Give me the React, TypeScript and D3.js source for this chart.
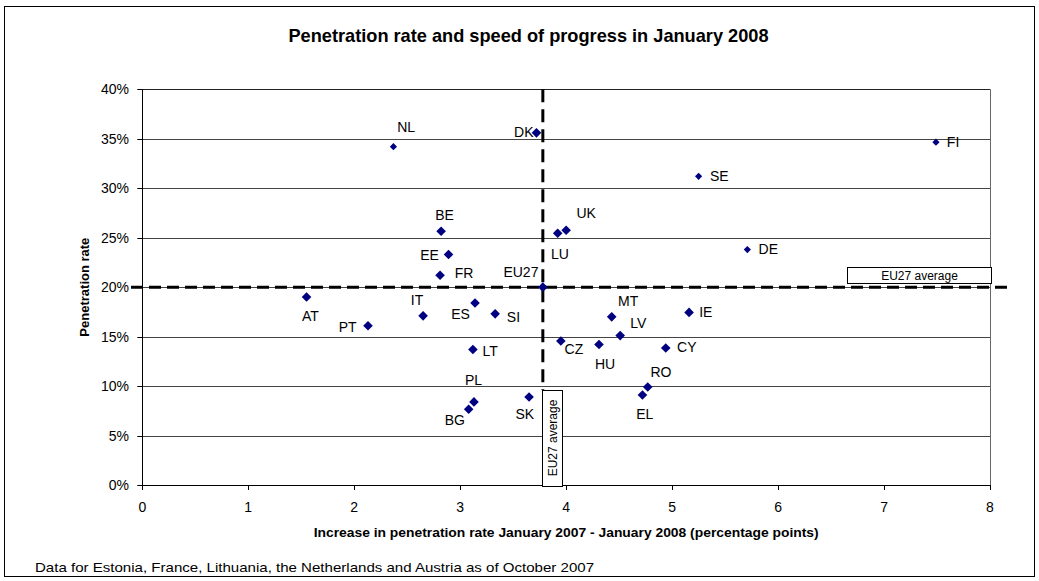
import React from "react";
import * as d3 from "d3";

// ---- Data ----
const countries = ["NL","DK","BE","EE","FR","AT","PT","IT","ES","SI","LT","PL","BG","SK","FI","SE","UK","LU","DE","MT","IE","LV","CZ","HU","CY","RO","EL","EU27"];
const increase = [2.37,3.72,2.82,2.89,2.81,1.55,2.13,2.65,3.14,3.33,3.12,3.13,3.08,3.65,7.49,5.25,4.0,3.92,5.71,4.43,5.16,4.51,3.95,4.31,4.94,4.77,4.72,3.78];
const penetration = [0.342,0.356,0.2565,0.233,0.212,0.19,0.161,0.171,0.184,0.173,0.137,0.084,0.0765,0.089,0.3465,0.312,0.2575,0.2545,0.238,0.17,0.1745,0.151,0.1455,0.142,0.1385,0.099,0.091,0.20];
const avgIncrease = 3.78;
const avgPenetration = 0.20;
const xTicks = [0,1,2,3,4,5,6,7,8];
const yTicks = [0,0.05,0.1,0.15,0.2,0.25,0.3,0.35,0.4];

const title = "Penetration rate and speed of progress in January 2008";
const xTitle = "Increase in penetration rate January 2007 - January 2008 (percentage points)";
const yTitle = "Penetration rate";
const footnote = "Data for Estonia, France, Lithuania, the Netherlands and Austria as of October 2007";
const avgLabel = "EU27 average";

// ---- Styling / layout (not data) ----
const smallMarkers = new Set(["NL","FI","SE","DE"]);
const labelOffset: Record<string,[number,number]> = {
  NL:[12.7,-19.2], DK:[-12.7,-0.7], BE:[3.5,-16.3], EE:[-19,0.7], FR:[24,-2], EU27:[-21.9,-14.7],
  AT:[3.8,18.9], PT:[-20.3,1.2], IT:[-6.1,-16.2], ES:[-14.5,10.8], SI:[18.3,3.3], LT:[17.3,1.2],
  PL:[-0.5,-22.3], BG:[-13.8,10.7], SK:[-4.3,17.1], FI:[17.1,0], SE:[20.7,-0.3], UK:[20,-17.3],
  LU:[2.2,20.5], DE:[21,-0.2], MT:[16.5,-16.2], IE:[16.8,-0.1], LV:[18.1,-12.5], CZ:[13,7.7],
  HU:[6,19.8], CY:[21,-0.8], RO:[13.2,-15.1], EL:[2.3,19.1],
};

const W = 1039, H = 581;
const FONT = "'Liberation Sans', Arial, sans-serif";

export default function App() {
  const x = d3.scaleLinear().domain([0, 8]).range([142.3, 990]);
  const y = d3.scaleLinear().domain([0, 0.4]).range([485, 89.3]);
  const fmtPct = d3.format(".0%");
  const diamond = (s: number) => `M0,${-s} L${s},0 L0,${s} L${-s},0 Z`;

  const x0 = x(0), x1 = x(8), y0 = y(0), y1 = y(0.4);
  const ax = x(avgIncrease), ay = y(avgPenetration);

  return (
    <svg width={W} height={H} style={{ position: "absolute", left: 0, top: 0, background: "#fff" }} fontFamily={FONT}>
      <rect x={0} y={0} width={W} height={H} fill="#fff" />
      <rect x={4.5} y={6.5} width={1030} height={570} fill="none" stroke="#000" strokeWidth={1} />

      <text x={528.5} y={41.5} textAnchor="middle" fontWeight="bold" fontSize={18.2}>{title}</text>

      {/* gridlines */}
      {yTicks.filter(t => t > 0 && t < 0.4).map(t => (
        <line key={"g" + t} x1={x0} x2={x1} y1={Math.round(y(t)) + 0.5} y2={Math.round(y(t)) + 0.5} stroke="#444" strokeWidth={1} />
      ))}
      {/* plot border top/right */}
      <line x1={x0} x2={x1} y1={Math.round(y1) + 0.5} y2={Math.round(y1) + 0.5} stroke="#222" />
      <line x1={Math.round(x1) + 0.5} x2={Math.round(x1) + 0.5} y1={y1} y2={y0} stroke="#666" />

      {/* axes */}
      <line x1={Math.round(x0) + 0.5} x2={Math.round(x0) + 0.5} y1={y1} y2={y0} stroke="#000" />
      <line x1={x0} x2={x1} y1={Math.round(y0) + 0.5} y2={Math.round(y0) + 0.5} stroke="#000" />
      {yTicks.map(t => (
        <g key={"yt" + t}>
          <line x1={x0 - 5} x2={x0} y1={Math.round(y(t)) + 0.5} y2={Math.round(y(t)) + 0.5} stroke="#000" />
          <text x={129} y={y(t) + 5} textAnchor="end" fontSize={14}>{fmtPct(t)}</text>
        </g>
      ))}
      {xTicks.map(t => (
        <g key={"xt" + t}>
          <line x1={Math.round(x(t)) + 0.5} x2={Math.round(x(t)) + 0.5} y1={y0} y2={y0 + 5} stroke="#000" />
          <text x={x(t)} y={512} textAnchor="middle" fontSize={14}>{t}</text>
        </g>
      ))}

      <text x={(x0 + x1) / 2} y={537} textAnchor="middle" fontWeight="bold" fontSize={13} textLength={505} lengthAdjust="spacingAndGlyphs">{xTitle}</text>
      <text transform={`translate(89,${(y0 + y1) / 2}) rotate(-90)`} textAnchor="middle" fontWeight="bold" fontSize={13}>{yTitle}</text>
      <text x={35} y={572} fontSize={13} textLength={559} lengthAdjust="spacingAndGlyphs">{footnote}</text>

      {/* average lines */}
      <line x1={131} x2={1008} y1={ay} y2={ay} stroke="#000" strokeWidth={3} strokeDasharray="12 6" />
      <line x1={ax} x2={ax} y1={y1} y2={390} stroke="#000" strokeWidth={3} strokeDasharray="13 7" />

      {/* average boxes */}
      <rect x={847.5} y={267.5} width={144} height={16} fill="#fff" stroke="#000" />
      <text x={919.5} y={280} textAnchor="middle" fontSize={12}>{avgLabel}</text>
      <rect x={542.5} y={390.5} width={20} height={96} fill="#fff" stroke="#000" />
      <text transform={`translate(557,438) rotate(-90)`} textAnchor="middle" fontSize={12}>{avgLabel}</text>

      {/* points */}
      {countries.map((c, i) => {
        const px = x(increase[i]), py = y(penetration[i]);
        const s = smallMarkers.has(c) ? 3.6 : 4.8;
        const [dx, dy] = labelOffset[c] || [10, 0];
        return (
          <g key={c}>
            <path d={diamond(s)} transform={`translate(${px},${py})`} fill="#000080" />
            <text x={px + dx} y={py + dy} textAnchor="middle" dominantBaseline="central" fontSize={14}>{c}</text>
          </g>
        );
      })}
    </svg>
  );
}
